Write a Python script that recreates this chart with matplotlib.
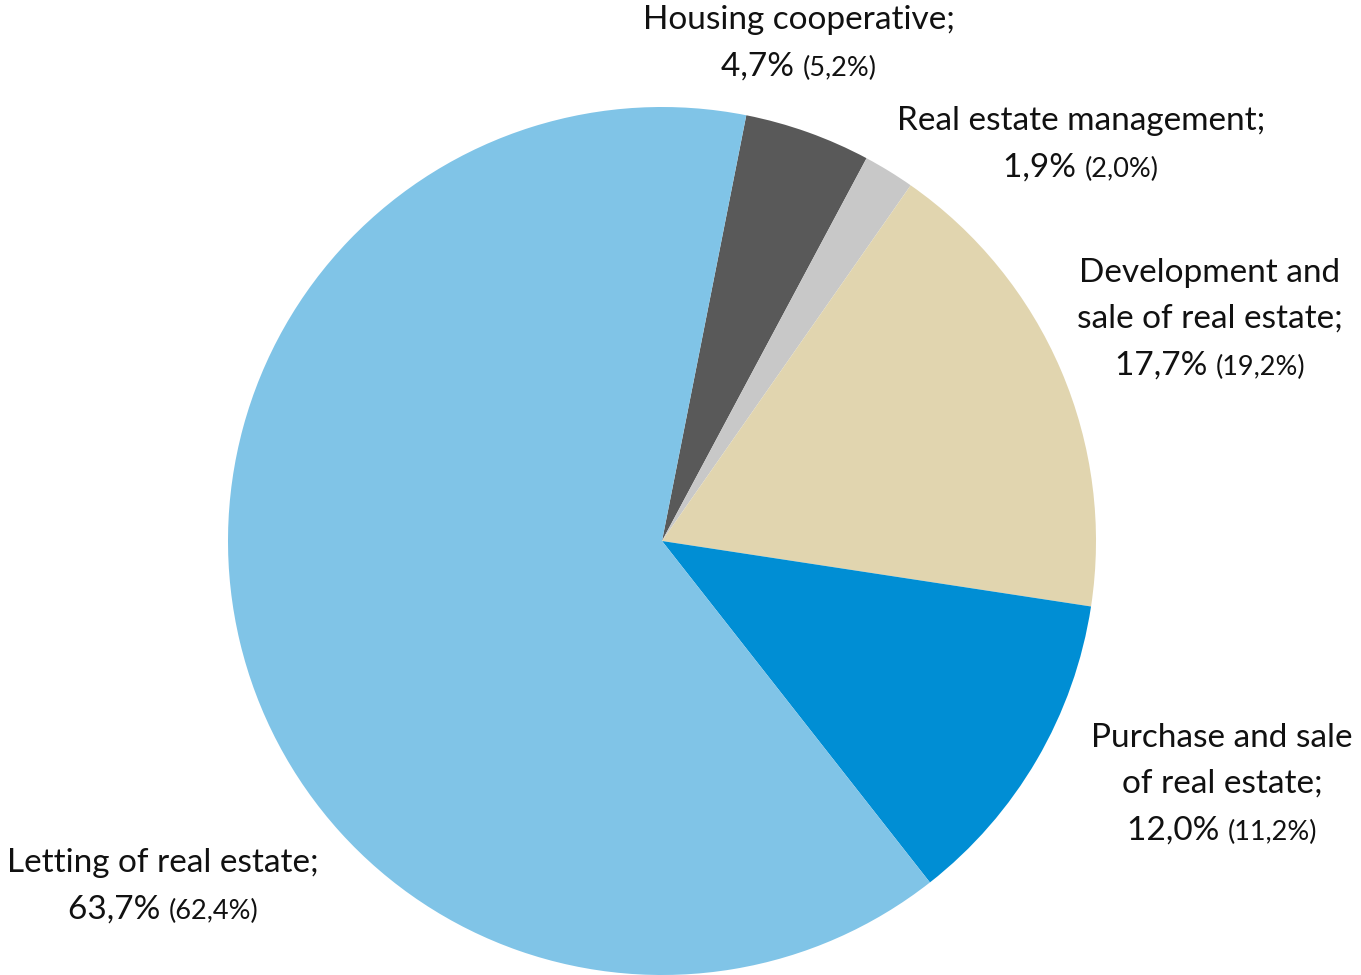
import matplotlib.pyplot as plt

plt.rcParams['font.family'] = ['Lato', 'DejaVu Sans']

# shares of the real estate sector, current year and (previous year)
names = ['Housing cooperative;', 'Real estate management;',
         'Development and\nsale of real estate;',
         'Purchase and sale\nof real estate;', 'Letting of real estate;']
shares = [4.7, 1.9, 17.7, 12.0, 63.7]
shares_prev = [5.2, 2.0, 19.2, 11.2, 62.4]
colors = ['#595959', '#C8C8C8', '#E1D5AF', '#008ED4', '#80C4E7']

# label anchors: centre x and top-line y, in pixels from the top-left corner
label_pos = [(799, 20), (1081, 121), (1210, 273), (1222, 738), (163, 863)]
line_h = 46

W, H = 1361, 975
fig = plt.figure(figsize=(W / 100, H / 100), dpi=100)
ax = fig.add_axes([0, 0, 1, 1])

ax.pie(shares, colors=colors, startangle=78.8, counterclock=False,
       center=(662, H - 541), radius=434, frame=True,
       wedgeprops={'linewidth': 0})
ax.set_xlim(0, W)
ax.set_ylim(0, H)
ax.axis('off')

fig.canvas.draw()
renderer = fig.canvas.get_renderer()

def fmt(v):
    return f'{v:.1f}'.replace('.', ',') + '%'

for name, v, vp, (cx, ty) in zip(names, shares, shares_prev, label_pos):
    lines = name.split('\n')
    for i, ln in enumerate(lines):
        ax.text(cx, H - (ty + i * line_h), ln, ha='center', va='center',
                fontsize=24, color='#111111')
    yl = H - (ty + len(lines) * line_h) - 10
    big = ax.text(0, yl, fmt(v) + ' ', ha='left', va='baseline',
                  fontsize=24, color='#111111')
    small = ax.text(0, yl, '(' + fmt(vp) + ')', ha='left', va='baseline',
                    fontsize=19.5, color='#111111')
    wb = big.get_window_extent(renderer).width
    ws = small.get_window_extent(renderer).width
    x0 = cx - (wb + ws) / 2
    big.set_x(x0)
    small.set_x(x0 + wb)

fig.savefig('out.png', dpi=100, facecolor='white')
